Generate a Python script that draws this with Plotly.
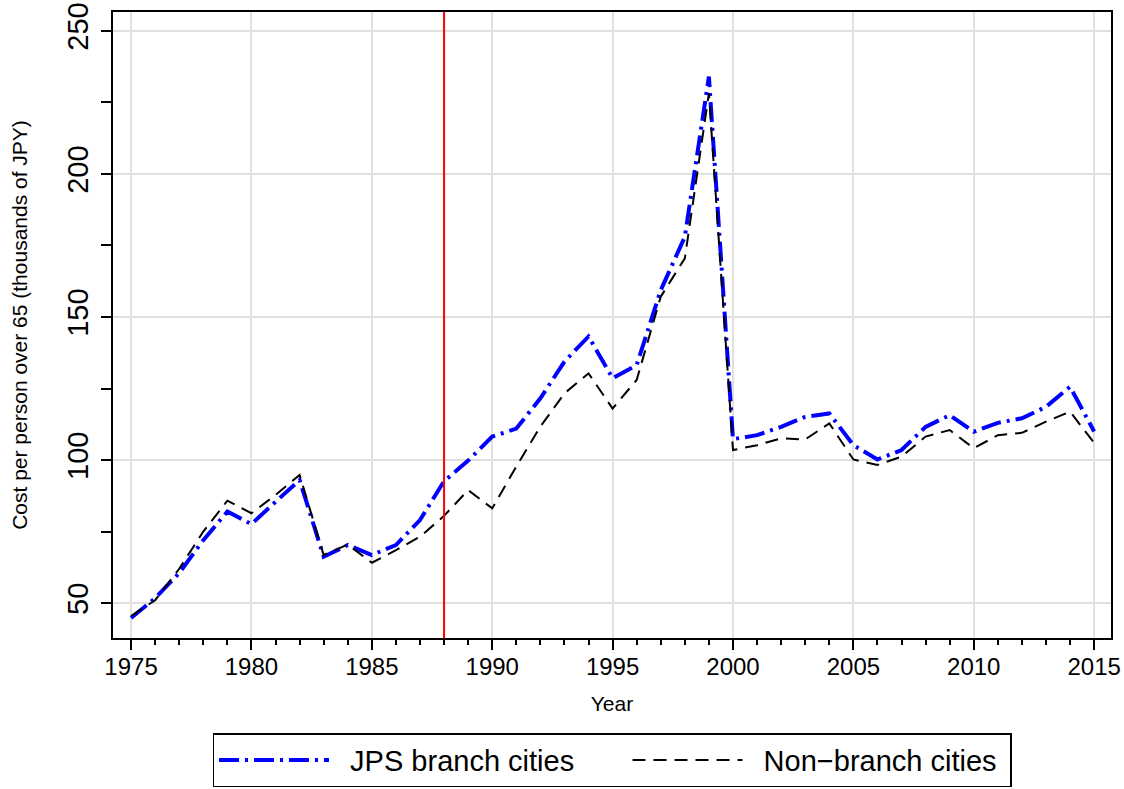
import plotly.graph_objects as go

years = list(range(1975, 2016))

jps_branch = [44.8, 51.7, 60.5, 72.0, 82.0, 77.6, 85.4, 93.0, 66.2, 70.3,
              66.8, 70.3, 79.0, 92.6, 99.8, 108.2, 111.0, 121.6, 134.4, 143.2,
              128.6, 133.2, 159.4, 178.0, 234.0, 107.3, 108.7, 111.6, 115.1, 116.3,
              105.2, 100.2, 103.5, 111.6, 115.7, 109.9, 113.0, 114.6, 118.6, 125.6,
              110.0]

non_branch = [45.5, 51.0, 62.0, 75.0, 85.8, 81.4, 87.8, 94.8, 66.8, 70.5,
              64.1, 68.5, 73.2, 80.5, 89.5, 83.1, 97.7, 111.7, 123.3, 130.3,
              118.0, 128.0, 157.1, 170.5, 228.2, 103.5, 105.2, 107.6, 107.2, 112.8,
              100.2, 98.3, 101.2, 108.2, 110.5, 104.1, 108.7, 109.5, 113.4, 116.9,
              106.0]

event_year = 1988

sp = "\u00a0"
fig = go.Figure()
fig.add_trace(go.Scatter(x=years, y=jps_branch, mode="lines",
                         name=sp * 2 + "JPS branch cities" + sp * 6,
                         line=dict(color="blue", width=4, dash="20px,6px,3px,6px")))
fig.add_trace(go.Scatter(x=years, y=non_branch, mode="lines",
                         name=sp * 2 + "Non\u2212branch cities" + sp,
                         line=dict(color="black", width=2, dash="13px,8px")))
fig.add_vline(x=event_year, line_color="red", line_width=2)

fig.update_layout(
    width=1124, height=789,
    margin=dict(l=113, r=13, t=12, b=151, autoexpand=False),
    paper_bgcolor="white", plot_bgcolor="white",
    font=dict(family="Liberation Sans, Arial, sans-serif", color="black"),
    legend=dict(orientation="h", x=0.5, xanchor="center", y=-0.152, yanchor="top",
                bordercolor="black", borderwidth=1.5, font=dict(size=29),
                itemwidth=110, tracegroupgap=0),
    showlegend=True,
)
fig.update_xaxes(range=[1974.25, 2015.7], tickmode="linear", tick0=1975, dtick=5,
                 automargin=False, ticklabeloverflow="allow",
                 ticks="outside", ticklen=10, tickwidth=1.5, tickcolor="black",
                 showline=True, linecolor="black", linewidth=1.5, mirror=True,
                 showgrid=True, gridcolor="#e0e0e0", gridwidth=2, zeroline=False,
                 tickfont=dict(size=24), ticklabelstandoff=-4,
                 minor=dict(dtick=1, ticks="outside", ticklen=5, tickwidth=1.5,
                            tickcolor="black", showgrid=False),
                 title=dict(text="Year", font=dict(size=21), standoff=18))
fig.update_yaxes(range=[37.8, 256.6], tickmode="linear", tick0=50, dtick=50,
                 automargin=False, ticklabeloverflow="allow",
                 ticks="outside", ticklen=10, tickwidth=1.5, tickcolor="black",
                 showline=True, linecolor="black", linewidth=1.5, mirror=True,
                 showgrid=True, gridcolor="#e0e0e0", gridwidth=2, zeroline=False,
                 tickfont=dict(size=29), tickangle=-90, ticklabelstandoff=2,
                 minor=dict(dtick=25, ticks="outside", ticklen=10, tickwidth=1.5,
                            tickcolor="black", showgrid=False),
                 title=dict(text="Cost per person over 65 (thousands of JPY)",
                            font=dict(size=21), standoff=28))

# drop the default 8px body margin so the figure sits at the page corner
fig.write_html("out.html", config={"displayModeBar": False},
               post_script="document.body.style.margin='0';")
